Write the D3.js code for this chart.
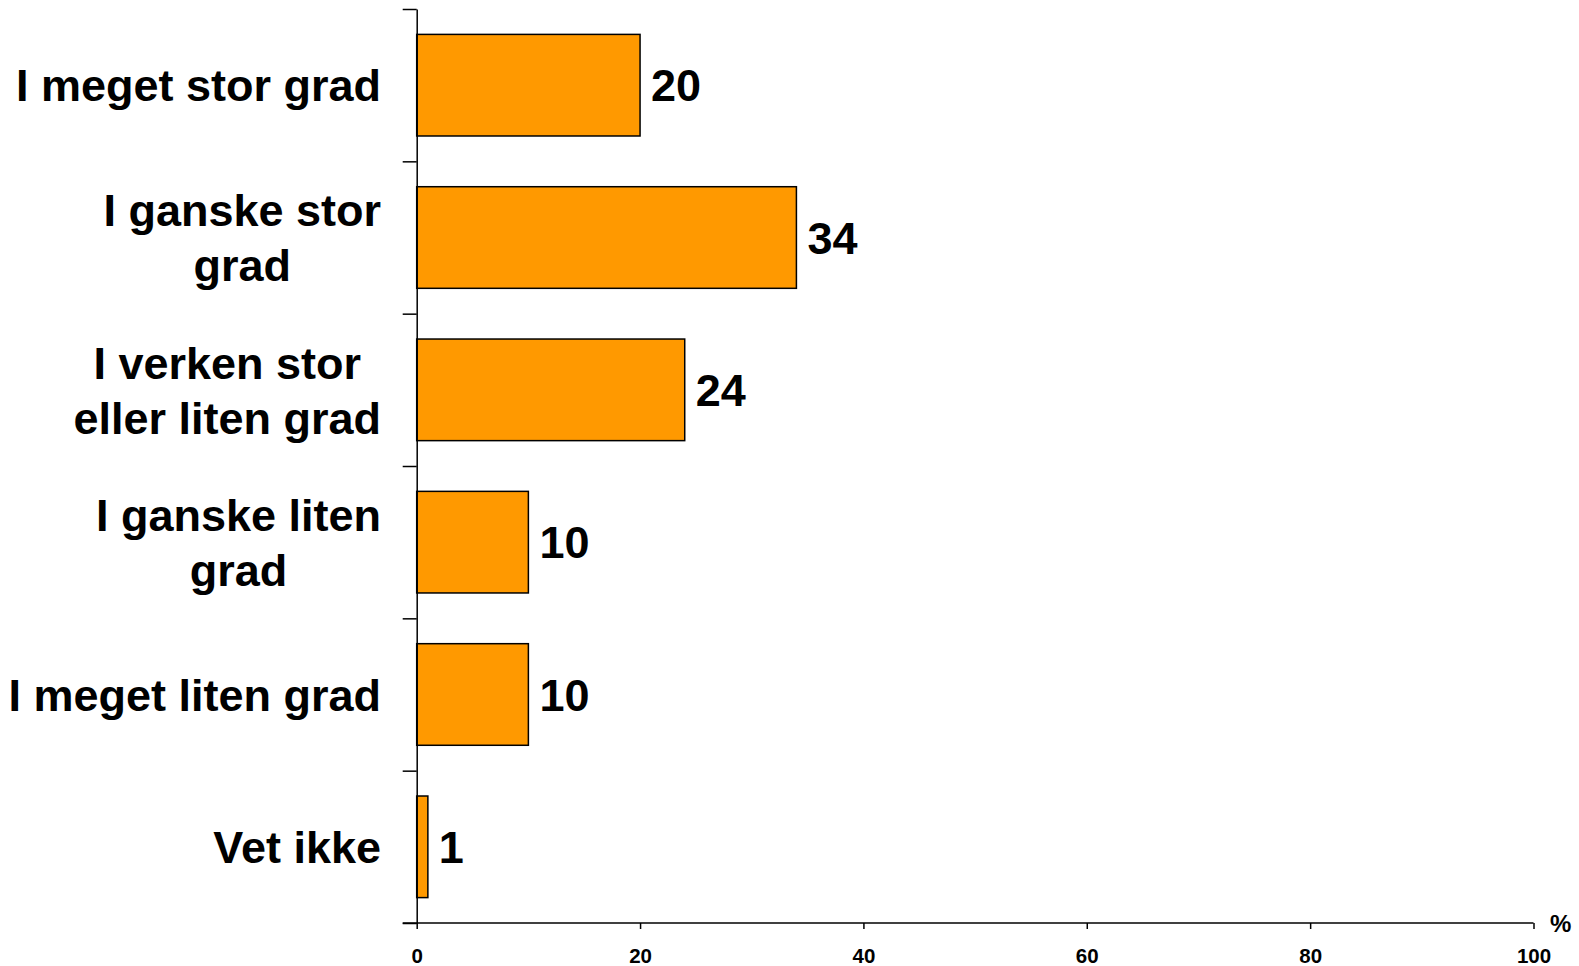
<!DOCTYPE html>
<html><head><meta charset="utf-8">
<script src="https://cdn.jsdelivr.net/npm/d3@7"></script>
<style>body{margin:0;background:#fff}svg{display:block}</style>
</head><body><svg id="c" width="1579" height="966"></svg>
<script>
const categories = ["I meget stor grad","I ganske stor grad","I verken stor eller liten grad","I ganske liten grad","I meget liten grad","Vet ikke"];
const labelLines = [["I meget stor grad"],["I ganske stor","grad"],["I verken stor","eller liten grad"],["I ganske liten","grad"],["I meget liten grad"],["Vet ikke"]];
const values = [20,34,24,10,10,1];
const xTicks = [0,20,40,60,80,100];
const unitLabel = "%";

const svg = d3.select("#c");
const font = "'Liberation Sans', Arial, sans-serif";
const x0 = 416.7, x1 = 1533.5, y0 = 9, y1 = 923;
const x = d3.scaleLinear().domain([0,100]).range([x0,x1]);
const y = d3.scaleBand().domain(categories).range([y0,y1]).paddingInner(0.333).paddingOuter(0.1667);
const yb = d3.scaleLinear().domain([0,categories.length]).range([y0,y1]);

// bars
svg.append("g").selectAll("rect").data(values).join("rect")
  .attr("x", x(0)).attr("y", (d,i)=>y(categories[i]))
  .attr("width", d=>x(d)-x(0)).attr("height", y.bandwidth())
  .attr("fill","#FF9900").attr("stroke","#000").attr("stroke-width",1.5);

// value labels
svg.append("g").selectAll("text").data(values).join("text")
  .attr("x", d=>x(d)+11).attr("y",(d,i)=>y(categories[i])+y.bandwidth()/2)
  .attr("dy","0.36em").attr("font-family",font).attr("font-weight","bold")
  .attr("font-size",45).attr("fill","#000").text(d=>d);

// y axis
const ya = svg.append("g").attr("transform",`translate(${x0},0)`)
  .call(d3.axisLeft(yb).tickValues(d3.range(categories.length+1)).tickFormat("").tickSize(14).tickSizeOuter(0));
ya.selectAll("path,line").attr("stroke","#000").attr("stroke-width",1.5);

// x axis
const xa = svg.append("g").attr("transform",`translate(0,${y1})`)
  .call(d3.axisBottom(x).tickValues(xTicks).tickSize(6).tickSizeOuter(0).tickPadding(19));
xa.selectAll("path,line").attr("stroke","#000").attr("stroke-width",1.5);
xa.selectAll("text").attr("font-family",font).attr("font-weight","bold").attr("font-size",20.5).attr("fill","#000");
xa.select(".domain").attr("d",`M${x0-14},0H${x1}`);

svg.append("text").attr("x",1550).attr("y",932).attr("font-family",font).attr("font-weight","bold")
  .attr("font-size",24).attr("fill","#000").text(unitLabel);

// category labels
const lab = svg.append("g");
const rightEdge = 381, lineH = 55;
labelLines.forEach((lines,i)=>{
  const cy = y(categories[i]) + y.bandwidth()/2;
  const g = lab.append("g");
  const texts = lines.map((ln,j)=>g.append("text")
    .attr("font-family",font).attr("font-weight","bold").attr("font-size",45).attr("fill","#000")
    .attr("text-anchor","middle").attr("dy","0.36em")
    .attr("y", cy + (j-(lines.length-1)/2)*lineH).text(ln));
  const w = d3.max(texts, t=>t.node().getComputedTextLength());
  texts.forEach(t=>t.attr("x", rightEdge - w/2));
});
</script></body></html>
